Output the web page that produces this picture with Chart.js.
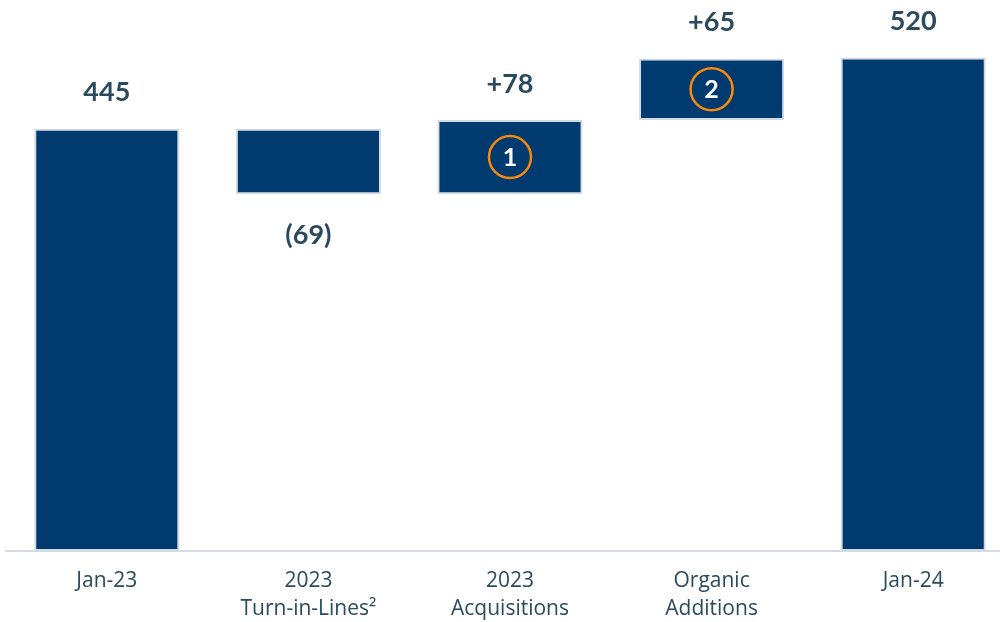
<!DOCTYPE html>
<html>
<head>
<meta charset="utf-8">
<script src="https://cdn.jsdelivr.net/npm/chart.js@4.4.1/dist/chart.umd.min.js"></script>
<style>
  html, body { margin: 0; padding: 0; background: #fff; overflow: hidden; }
  #wrap { width: 1020px; height: 622px; }
</style>
</head>
<body>
<div id="wrap"><canvas id="chart"></canvas></div>
<script>
const categories = [["Jan-23"], ["2023", "Turn-in-Lines\u00b2"], ["2023", "Acquisitions"], ["Organic", "Additions"], ["Jan-24"]];
const values = [445, -69, 78, 65, 520];
const isTotal = [true, false, false, false, true];
const notes = [null, null, "1", "2", null];

// build floating ranges for the waterfall
let running = 0;
const ranges = values.map((v, i) => {
  if (isTotal[i]) { running = v; return [0, v]; }
  const start = running;
  running += v;
  return [start, running];
});

const labelText = values.map((v, i) => {
  if (isTotal[i]) return String(v);
  return v < 0 ? "(" + Math.abs(v) + ")" : "+" + v;
});

const textColor = "#2b4a5e";

const barLabels = {
  id: "barLabels",
  afterDatasetsDraw(chart) {
    const ctx = chart.ctx;
    const meta = chart.getDatasetMeta(0);
    ctx.save();
    ctx.textAlign = "center";
    ctx.textBaseline = "middle";
    meta.data.forEach((bar, i) => {
      const top = Math.min(bar.y, bar.base);
      const bottom = Math.max(bar.y, bar.base);
      ctx.fillStyle = textColor;
      ctx.font = "bold 27px Lato";
      if (values[i] < 0) ctx.fillText(labelText[i], bar.x, bottom + 41);
      else ctx.fillText(labelText[i], bar.x, top - 36);
      if (notes[i]) {
        const cy = (top + bottom) / 2;
        ctx.beginPath();
        ctx.arc(bar.x, cy, 21, 0, Math.PI * 2);
        ctx.strokeStyle = "#f7890c";
        ctx.lineWidth = 2.5;
        ctx.stroke();
        ctx.fillStyle = "#ffffff";
        ctx.font = "bold 25px Lato";
        ctx.fillText(notes[i], bar.x, cy + 1);
      }
    });
    ctx.restore();
  }
};

new Chart(document.getElementById("chart"), {
  type: "bar",
  data: {
    labels: categories,
    datasets: [{
      data: ranges,
      backgroundColor: "#013a6f",
      borderColor: "#d3dbe2",
      borderWidth: 2,
      borderSkipped: false,
      categoryPercentage: 1,
      barPercentage: 0.72
    }]
  },
  options: {
    responsive: true,
    maintainAspectRatio: false,
    animation: false,
    layout: { padding: { left: 6, right: 6, top: 10, bottom: -9 } },
    plugins: { legend: { display: false }, tooltip: { enabled: false } },
    scales: {
      x: {
        grid: { display: false },
        border: { display: true, color: "#d5dbe0", width: 2 },
        ticks: {
          color: textColor,
          font: { family: "Open Sans", size: 21, lineHeight: 1.38 },
          padding: 7,
          maxRotation: 0
        }
      },
      y: {
        display: false,
        min: 0,
        max: 570
      }
    }
  },
  plugins: [barLabels]
});
</script>
</body>
</html>
